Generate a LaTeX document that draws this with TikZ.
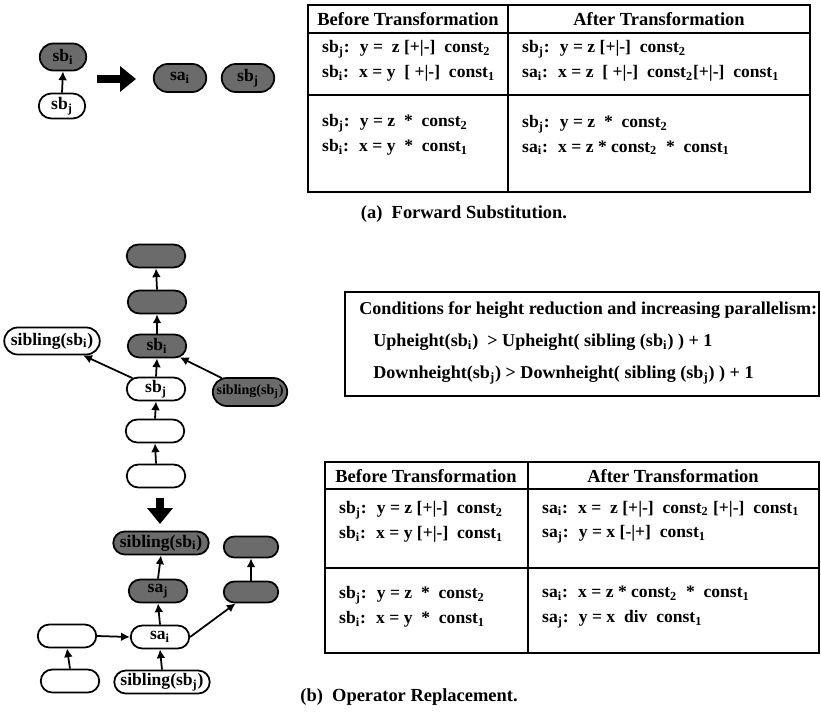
\documentclass[tikz,border=0pt]{standalone}
\usepackage{fontspec}
\setmainfont{Liberation Serif}
\usetikzlibrary{shapes.misc,arrows.meta}
\newcommand{\subs}[1]{\textsubscript{#1}}
\tikzset{
	grayBox/.style={rounded rectangle, line width=1pt, draw=black, fill=black!58, minimum width=1.24cm, minimum height=0.46cm, inner sep=1pt},
	whiteBox/.style={rounded rectangle, line width=1pt, draw=black, fill=white, minimum width=1.24cm, minimum height=0.46cm, inner sep=1pt},
	edgeArrow/.style={-{Latex[length=5pt,width=5pt]}, line width=1pt},
	bigArrow/.style={-{Triangle[length=9pt,width=14pt]}, line width=4pt},
	cellText/.style={anchor=west, align=left, font=\bfseries\fontsize{10}{14}\selectfont},
	headText/.style={font=\bfseries\fontsize{10.5}{12}\selectfont},
	condText/.style={anchor=west, inner sep=0pt, font=\bfseries\fontsize{10.3}{12}\selectfont},
	tableLine/.style={line width=1pt}
}
\begin{document}
\begin{tikzpicture}[x=0.02cm, y=-0.02cm, every node/.append style={font=\bfseries\fontsize{10}{12}\selectfont}]
	\useasboundingbox (0,0) rectangle (821,716);
	% (a) forward substitution
	\node[grayBox, minimum width=1.0cm, minimum height=0.54cm](aSbi) at (63,57){sb\subs{i}};
	\node[whiteBox, minimum width=1.0cm, minimum height=0.5cm](aSbj) at (62,106){sb\subs{j}};
	\draw [edgeArrow] (aSbj.north) -- (aSbi.south);
	\coordinate (aFrom) at (97,79);
	\coordinate (aTo) at (136,79);
	\draw [bigArrow] (aFrom) -- (aTo);
	\node[grayBox, minimum width=1.12cm, minimum height=0.56cm](aSai) at (180,78){sa\subs{i}};
	\node[grayBox, minimum width=1.12cm, minimum height=0.56cm](aSbjNew) at (248,78){sb\subs{j}};

	\draw [tableLine] (308,5) rectangle (810,192);
	\draw [tableLine] (308,33) -- (810,33);
	\draw [tableLine] (308,95) -- (810,95);
	\draw [tableLine] (508,5) -- (508,192);
	\node[headText](aHeadBefore) at (408,19){Before Transformation};
	\node[headText](aHeadAfter) at (659,19){After Transformation};
	\node[cellText](aBeforeAdd) at (316,61){sb\subs{j}:~ y =~ z [+|-]~ const\subs{2}\\sb\subs{i}:~ x = y~ [~+|-]~ const\subs{1}};
	\node[cellText](aAfterAdd) at (516,61){sb\subs{j}:~ y = z [+|-]~ const\subs{2}\\sa\subs{i}:~ x = z~ [~+|-]~ const\subs{2}[+|-]~ const\subs{1}};
	\node[cellText](aBeforeMul) at (316,135){sb\subs{j}:~ y = z~ *~ const\subs{2}\\sb\subs{i}:~ x = y~ *~ const\subs{1}};
	\node[cellText](aAfterMul) at (516,135){sb\subs{j}:~ y = z~ *~ const\subs{2}\\sa\subs{i}:~ x = z * const\subs{2}~ *~ const\subs{1}};
	\node[headText](aCaption) at (464,214){(a)~ Forward Substitution.};

	% (b) operator replacement, before
	\node[grayBox](topA) at (156,256){};
	\node[grayBox](topB) at (157,302){};
	\node[grayBox](bSbi) at (157,346){sb\subs{i}};
	\node[whiteBox, minimum width=1.98cm, minimum height=0.54cm](sibI) at (52,341){sibling(sb\subs{i})};
	\node[whiteBox](bSbj) at (156,389){sb\subs{j}};
	\node[grayBox, minimum width=1.28cm, minimum height=0.56cm, font=\bfseries\fontsize{8}{10}\selectfont](sibJ) at (250,392){sibling(sb\subs{j})};
	\node[whiteBox](lowA) at (155,431){};
	\node[whiteBox](lowB) at (156,476){};
	\draw [edgeArrow] (topB.north) -- (topA.south);
	\draw [edgeArrow] (bSbi.north) -- (topB.south);
	\draw [edgeArrow] (bSbj.north) -- (bSbi.south);
	\draw [edgeArrow] (lowA.north) -- (bSbj.south);
	\draw [edgeArrow] (lowB.north) -- (lowA.south);
	\draw [edgeArrow] (bSbj) -- (sibI);
	\draw [edgeArrow] (sibJ) -- (bSbi);

	\coordinate (bFrom) at (160,498);
	\coordinate (bTo) at (160,524);
	\draw [bigArrow] (bFrom) -- (bTo);

	% (b) operator replacement, after
	\node[grayBox, minimum width=1.98cm](newSibI) at (161,543){sibling(sb\subs{i})};
	\node[grayBox](newSaj) at (158,591){sa\subs{j}};
	\node[whiteBox](newSai) at (160,637){sa\subs{i}};
	\node[whiteBox, minimum width=1.98cm](newSibJ) at (162,682){sibling(sb\subs{j})};
	\node[whiteBox](leftA) at (67,636){};
	\node[whiteBox](leftB) at (70,681){};
	\node[grayBox, minimum width=1.16cm, minimum height=0.42cm](rightA) at (251,592){};
	\node[grayBox, minimum width=1.16cm, minimum height=0.42cm](rightB) at (251,547){};
	\draw [edgeArrow] (newSaj.north) -- (newSibI.south);
	\draw [edgeArrow] (newSai.north) -- (newSaj.south);
	\draw [edgeArrow] (newSibJ.north) -- (newSai.south);
	\draw [edgeArrow] (leftB.north) -- (leftA.south);
	\draw [edgeArrow] (leftA.east) -- (newSai.west);
	\draw [edgeArrow] (newSai.east) -- (rightA);
	\draw [edgeArrow] (rightA.north) -- (rightB.south);

	% conditions
	\draw [tableLine] (345,292) rectangle (819,396);
	\node[condText](condTitle) at (359,310){Conditions for height reduction and increasing parallelism:};
	\node[condText](condUp) at (373,342){Upheight(sb\subs{i})~ > Upheight( sibling (sb\subs{i}) ) + 1};
	\node[condText](condDown) at (373,375){Downheight(sb\subs{j}) > Downheight( sibling (sb\subs{j}) ) + 1};

	\draw [tableLine] (325,462) rectangle (819,653);
	\draw [tableLine] (325,489) -- (819,489);
	\draw [tableLine] (325,568) -- (819,568);
	\draw [tableLine] (528,462) -- (528,653);
	\node[headText](bHeadBefore) at (426,476){Before Transformation};
	\node[headText](bHeadAfter) at (673,476){After Transformation};
	\node[cellText](bBeforeAdd) at (333,522){sb\subs{j}:~ y = z [+|-]~ const\subs{2}\\sb\subs{i}:~ x = y [+|-]~ const\subs{1}};
	\node[cellText](bAfterAdd) at (536,522){sa\subs{i}:~ x =~ z [+|-]~ const\subs{2} [+|-]~ const\subs{1}\\sa\subs{j}:~ y = x [-|+]~ const\subs{1}};
	\node[cellText](bBeforeMul) at (333,607){sb\subs{j}:~ y = z~ *~ const\subs{2}\\sb\subs{i}:~ x = y~ *~ const\subs{1}};
	\node[cellText](bAfterMul) at (536,607){sa\subs{i}:~ x = z * const\subs{2}~ *~ const\subs{1}\\sa\subs{j}:~ y = x~ div~ const\subs{1}};
	\node[headText](bCaption) at (409,697){(b)~ Operator Replacement.};
\end{tikzpicture}
\end{document}
